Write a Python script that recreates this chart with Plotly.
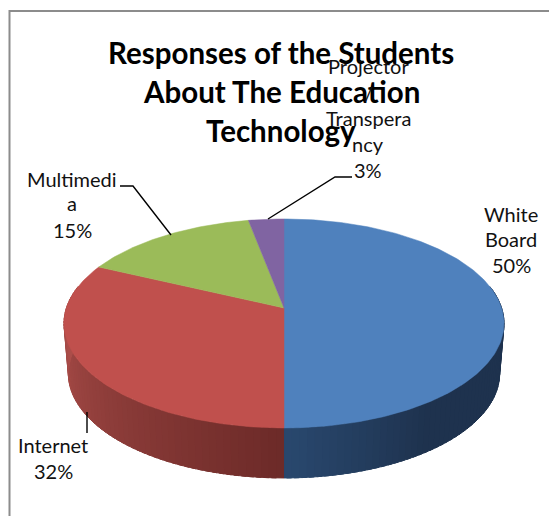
import math
import plotly.graph_objects as go

categories = ["White Board", "Internet", "Multimedia", "Projector / Transparency"]
shares = [50, 32, 15, 3]
top_colors = ["#4F81BD", "#C0504D", "#9BBB59", "#8064A2"]
wall_near = [(41, 72, 110), (108, 42, 40), (120, 145, 70), (90, 70, 115)]
wall_far = [(30, 50, 78), (172, 78, 74), (120, 145, 70), (90, 70, 115)]

CX, CY, RX, RY, TILT, DEPTH = 284, 308, 217.6, 102.2, 0.148, 50


def project(theta, drop=0.0):
    """Map a clockwise angle from twelve o'clock onto the tilted disc."""
    u, v = math.sin(theta), -math.cos(theta)
    w = 1 - TILT * v
    shrink = 1 - 0.02 * drop / DEPTH
    return CX + RX * u / w * shrink, CY + RY * v / w + drop


def lerp(a, b, t):
    return "rgb(%d,%d,%d)" % tuple(round(a[i] + (b[i] - a[i]) * t) for i in range(3))


fig = go.Figure()

total = sum(shares)
edges = [0.0]
for share in shares:
    edges.append(edges[-1] + share / total * 2 * math.pi)

# Side wall: strips on the front half of the disc, shaded by angle.
# Each strip overlaps the next one so no seam shows between them.
for i in range(len(shares)):
    a0, a1 = edges[i], edges[i + 1]
    lo, hi = max(a0, math.pi * 0.43), min(a1, math.pi * 1.57)
    if hi <= lo:
        continue
    strips = max(2, int((hi - lo) / 0.03))
    for s in range(strips):
        t0 = lo + (hi - lo) * s / strips
        t1 = min(lo + (hi - lo) * (s + 1) / strips + 0.02, hi)
        steps = [t0, (t0 + t1) / 2, t1]
        upper = [project(t) for t in steps]
        lower = [project(t, DEPTH) for t in reversed(steps)]
        pts = upper + lower
        away = min(abs((t0 + t1) / 2 - math.pi) / (math.pi * 0.5), 1)
        if i == 0:
            away = min(away * 2.6, 1)
        color = lerp(wall_near[i], wall_far[i], away)
        fig.add_trace(go.Scatter(
            x=[p[0] for p in pts], y=[p[1] for p in pts], mode="lines",
            fill="toself", fillcolor=color, line=dict(color=color, width=1),
            hoverinfo="skip", showlegend=False))

# Top face of each slice
for i, name in enumerate(categories):
    a0, a1 = edges[i], edges[i + 1]
    n = max(4, int((a1 - a0) * 60))
    arc = [project(a0 + (a1 - a0) * k / n) for k in range(n + 1)]
    xs = [CX] + [p[0] for p in arc] + [CX]
    ys = [CY] + [p[1] for p in arc] + [CY]
    fig.add_trace(go.Scatter(
        x=xs, y=ys, mode="lines", fill="toself", fillcolor=top_colors[i],
        line=dict(color=top_colors[i], width=0.5), name=name,
        hoverinfo="name", showlegend=False))

# Leader lines from the labels to their slices
leaders = [
    ([120, 133, 171], [186, 186, 235]),
    ([352, 335, 268], [177, 177, 219]),
    ([87, 87], [412, 433]),
]
for lx, ly in leaders:
    fig.add_trace(go.Scatter(x=lx, y=ly, mode="lines",
                             line=dict(color="black", width=1.4),
                             hoverinfo="skip", showlegend=False))

FONT = "Lato, Carlito, Calibri, sans-serif"
title_lines = ["Responses of the Students", "About The Education", "Technology"]
for text, y in zip(title_lines, [52, 91, 130]):
    fig.add_annotation(x=281, y=y, text="<b>%s</b>" % text, showarrow=False,
                       font=dict(family=FONT, size=29.5, color="black"))

labels = [
    (368, ["Projector", "/", "Transpera", "ncy", "3%"], [66, 93, 118, 144, 170]),
    (72, ["Multimedi", "a", "15%"], [179, 203, 230]),
    (511, ["White", "Board", "50%"], [214, 239, 265]),
    (53, ["Internet", "32%"], [445, 471]),
]
for x, lines, ys in labels:
    for text, y in zip(lines, ys):
        fig.add_annotation(x=x, y=y, text=text, showarrow=False,
                           font=dict(family=FONT, size=20, color="#111111"))

fig.update_layout(
    width=549, height=516, margin=dict(l=0, r=0, t=0, b=0),
    paper_bgcolor="white", plot_bgcolor="white",
    xaxis=dict(range=[0, 549], visible=False, fixedrange=True),
    yaxis=dict(range=[516, 0], visible=False, fixedrange=True),
    shapes=[dict(type="path", path="M 9.5 516 L 9.5 11 L 549 11",
                 line=dict(color="#8C8C8C", width=2), layer="below")],
)

fig.write_html("out.html", config={"displayModeBar": False})
